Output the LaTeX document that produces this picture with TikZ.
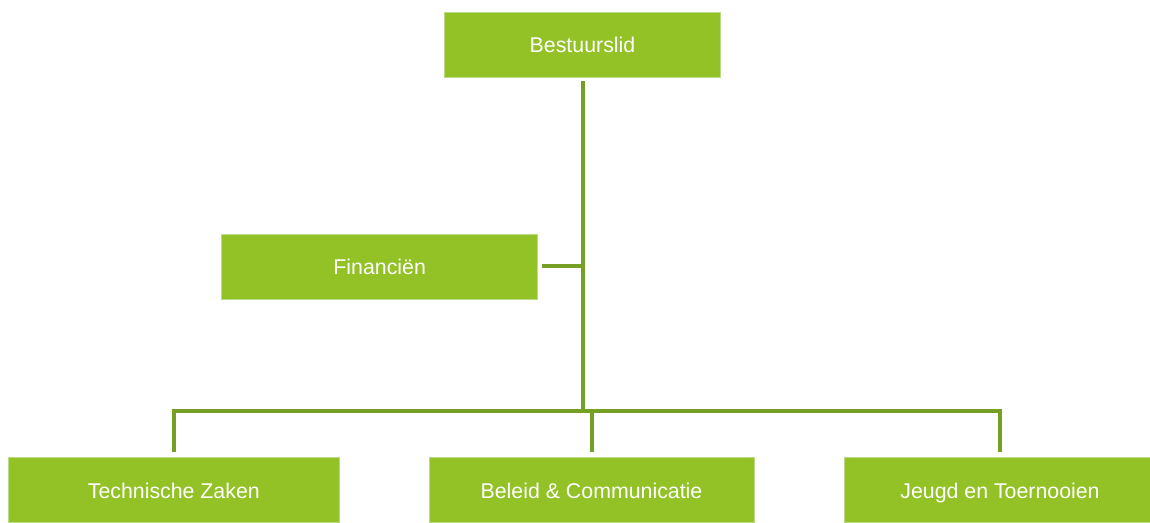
\documentclass[tikz,border=0pt]{standalone}
\usepackage{fontspec}
\setmainfont{Liberation Sans}
\definecolor{boxgreen}{HTML}{92C225}
\definecolor{linegreen}{HTML}{76A023}
\definecolor{edgegreen}{HTML}{BCDB86}
\begin{document}
\begin{tikzpicture}[x=0.75pt,y=-0.75pt,
  orgbox/.style={rectangle, fill=boxgreen, draw=edgegreen, line width=0.5pt, inner sep=0pt,
     minimum height={65*0.75pt}, text height=15.6pt, text depth=3.4pt,
     text=white, font=\fontsize{16}{19}\selectfont},
  conn/.style={draw=linegreen, line width=3pt}]
\useasboundingbox (0,0) rectangle (1150,523);
\node[orgbox, minimum width={276*0.75pt}] (B) at (582.5,44.5) {Bestuurslid};
\node[orgbox, minimum width={316*0.75pt}] (F) at (379.7,266.5) {Financiën};
\node[orgbox, minimum width={331*0.75pt}] (T) at (173.8,490) {Technische Zaken};
\node[orgbox, minimum width={325*0.75pt}] (C) at (591.5,490) {Beleid \& Communicatie};
\node[orgbox, minimum width={312*0.75pt}] (J) at (1000,490) {Jeugd en Toernooien};
\coordinate (bar) at (582.5,411);
\draw[conn, shorten <=3pt] (B.south) -- (bar);
\draw[conn, shorten <=3pt] (F.east) -- (F.east -| bar);
\draw[conn, shorten <=3.5pt, shorten >=3.5pt] (T.north) |- (bar) -| (J.north);
\draw[conn, shorten <=3.5pt] (C.north) -- (C.north |- bar);
\end{tikzpicture}
\end{document}
